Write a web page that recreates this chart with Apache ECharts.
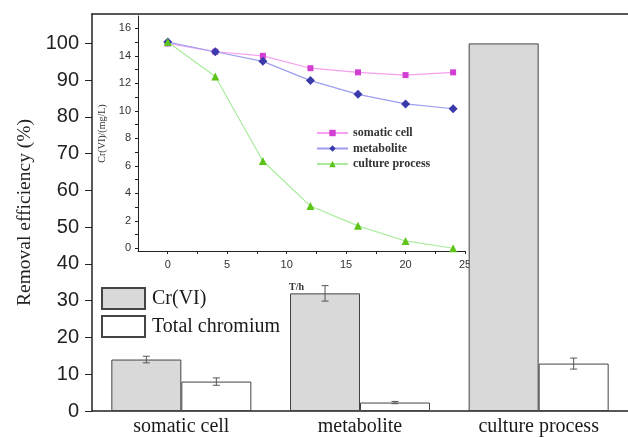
<!DOCTYPE html>
<html>
<head>
<meta charset="utf-8">
<script src="https://cdn.jsdelivr.net/npm/echarts@6/dist/echarts.min.js"></script>
<style>
  html, body { margin: 0; padding: 0; background: #fff; }
  #chart { width: 628px; height: 437px; }
</style>
</head>
<body>
<div id="chart"></div>
<script>
// main bar chart
const categories = ['somatic cell', 'metabolite', 'culture process'];
const crVI = [14, 32, 100];
const crVIErr = [0.9, 2.1, 0];
const totalCr = [8, 2.3, 12.9];
const totalCrErr = [1, 0.3, 1.5];
const mainTicks = [0, 10, 20, 30, 40, 50, 60, 70, 80, 90, 100];

// inset line chart
const hours = [0, 4, 8, 12, 16, 20, 24];
const somatic = [14.9, 14.3, 14.0, 13.1, 12.8, 12.6, 12.8];
const metabolite = [15.0, 14.3, 13.6, 12.2, 11.2, 10.5, 10.15];
const culture = [15.0, 12.5, 6.35, 3.07, 1.63, 0.53, 0.0];
const insetYTicks = [0, 2, 4, 6, 8, 10, 12, 14, 16];
const insetXTicks = [0, 5, 10, 15, 20, 25];

const BAR_W = 70;
const serif = '"Liberation Serif", "DejaVu Serif", serif';
const sans = '"Liberation Sans", Arial, sans-serif';

const chart = echarts.init(document.getElementById('chart'));

function errorSeries(name, vals, errs, offset) {
  return {
    type: 'custom',
    name: name,
    xAxisIndex: 0,
    yAxisIndex: 0,
    z: 5,
    data: vals.map((v, i) => [i, v, errs[i]]).filter(d => d[2] > 0),
    renderItem: function (params, api) {
      const c = api.value(0), v = api.value(1), e = api.value(2);
      const x = api.coord([c, v])[0] + offset;
      const y1 = api.coord([c, v + e])[1];
      const y2 = api.coord([c, v - e])[1];
      const st = { stroke: '#555', lineWidth: 1 };
      return {
        type: 'group',
        children: [
          { type: 'line', shape: { x1: x, y1: y1, x2: x, y2: y2 }, style: st },
          { type: 'line', shape: { x1: x - 3.5, y1: y1, x2: x + 3.5, y2: y1 }, style: st },
          { type: 'line', shape: { x1: x - 3.5, y1: y2, x2: x + 3.5, y2: y2 }, style: st }
        ]
      };
    }
  };
}

const option = {
  animation: false,
  backgroundColor: '#fff',
  grid: [
    { left: 92, right: 0, top: 14, bottom: 26 },
    { left: 138, width: 327, top: 16, height: 235 }
  ],
  legend: [
    {
      data: ['Cr(VI)', 'Total chromium'],
      orient: 'vertical',
      left: 101,
      top: 287,
      padding: 0,
      icon: 'rect',
      itemWidth: 43,
      itemHeight: 21,
      itemGap: 5,
      textStyle: { fontFamily: serif, fontSize: 20, color: '#1a1a1a', padding: [0, 0, 0, 2] }
    },
    {
      data: ['somatic cell', 'metabolite', 'culture process'],
      orient: 'vertical',
      left: 316,
      top: 127,
      padding: 0,
      itemWidth: 31,
      itemHeight: 8,
      itemGap: 3.5,
      textStyle: { fontFamily: serif, fontSize: 12, fontWeight: 'bold', color: '#333' }
    }
  ],
  xAxis: [
    {
      type: 'category',
      gridIndex: 0,
      data: categories,
      axisLine: { lineStyle: { color: '#222', width: 1.5 } },
      axisTick: { show: false },
      axisLabel: { fontFamily: serif, fontSize: 20, color: '#1a1a1a', margin: 6 }
    },
    {
      type: 'category',
      gridIndex: 0,
      position: 'top',
      data: categories,
      axisLine: { lineStyle: { color: '#222', width: 1.5 } },
      axisTick: { show: false },
      axisLabel: { show: false }
    },
    {
      type: 'value',
      gridIndex: 1,
      min: -2.5,
      max: 25,
      axisLine: { onZero: false, lineStyle: { color: '#222', width: 1 } },
      axisTick: { customValues: [0, 2.5, 5, 7.5, 10, 12.5, 15, 17.5, 20, 22.5, 25], length: 3, lineStyle: { color: '#222' } },
      axisLabel: { customValues: insetXTicks, fontFamily: sans, fontSize: 11, color: '#333', margin: 8 },
      splitLine: { show: false }
    }
  ],
  yAxis: [
    {
      type: 'value',
      gridIndex: 0,
      min: 0,
      max: 108,
      name: 'Removal efficiency (%)',
      nameLocation: 'middle',
      nameGap: 54,
      nameTextStyle: { fontFamily: serif, fontSize: 19.5, color: '#222' },
      axisLine: { show: true, lineStyle: { color: '#222', width: 1.5 } },
      axisTick: { show: true, customValues: mainTicks, length: 7, lineStyle: { color: '#222' } },
      axisLabel: { customValues: mainTicks, fontFamily: sans, fontSize: 20, color: '#222', margin: 13 },
      splitLine: { show: false }
    },
    {
      type: 'value',
      gridIndex: 1,
      min: -0.2,
      max: 16.9,
      name: 'Cr(VI)/(mg/L)',
      nameLocation: 'middle',
      nameGap: 28,
      nameTextStyle: { fontFamily: serif, fontSize: 10, color: '#333' },
      axisLine: { show: true, onZero: false, lineStyle: { color: '#222', width: 1 } },
      axisTick: { show: true, customValues: [0, 1, 2, 3, 4, 5, 6, 7, 8, 9, 10, 11, 12, 13, 14, 15, 16], length: 3, lineStyle: { color: '#222' } },
      axisLabel: { customValues: insetYTicks, fontFamily: sans, fontSize: 11, color: '#333', margin: 7 },
      splitLine: { show: false }
    }
  ],
  graphic: [
    {
      type: 'text',
      left: 289,
      top: 282,
      style: { text: 'T/h', fontFamily: serif, fontSize: 10, fontWeight: 'bold', fill: '#333' }
    }
  ],
  series: [
    {
      name: 'Cr(VI)',
      type: 'bar',
      xAxisIndex: 0,
      yAxisIndex: 0,
      barWidth: BAR_W,
      barGap: '0%',
      data: crVI,
      itemStyle: { color: '#d9d9d9', borderColor: '#444', borderWidth: 1 }
    },
    {
      name: 'Total chromium',
      type: 'bar',
      xAxisIndex: 0,
      yAxisIndex: 0,
      barWidth: BAR_W,
      barGap: '0%',
      data: totalCr,
      itemStyle: { color: '#fff', borderColor: '#444', borderWidth: 1 }
    },
    errorSeries('errCr', crVI, crVIErr, -BAR_W / 2),
    errorSeries('errTotal', totalCr, totalCrErr, BAR_W / 2),
    {
      name: 'somatic cell',
      type: 'line',
      xAxisIndex: 2,
      yAxisIndex: 1,
      data: hours.map((h, i) => [h, somatic[i]]),
      symbol: 'rect',
      symbolSize: 6,
      itemStyle: { color: '#d23fd2' },
      lineStyle: { color: '#f7a0f0', width: 1.2 }
    },
    {
      name: 'metabolite',
      type: 'line',
      xAxisIndex: 2,
      yAxisIndex: 1,
      data: hours.map((h, i) => [h, metabolite[i]]),
      symbol: 'diamond',
      symbolSize: 9,
      itemStyle: { color: '#3a3aaa' },
      lineStyle: { color: '#9d9df0', width: 1.2 }
    },
    {
      name: 'culture process',
      type: 'line',
      xAxisIndex: 2,
      yAxisIndex: 1,
      data: hours.map((h, i) => [h, culture[i]]),
      symbol: 'triangle',
      symbolSize: 8,
      itemStyle: { color: '#5cc418' },
      lineStyle: { color: '#a8ec9c', width: 1.2 }
    }
  ]
};

chart.setOption(option);
</script>
</body>
</html>
